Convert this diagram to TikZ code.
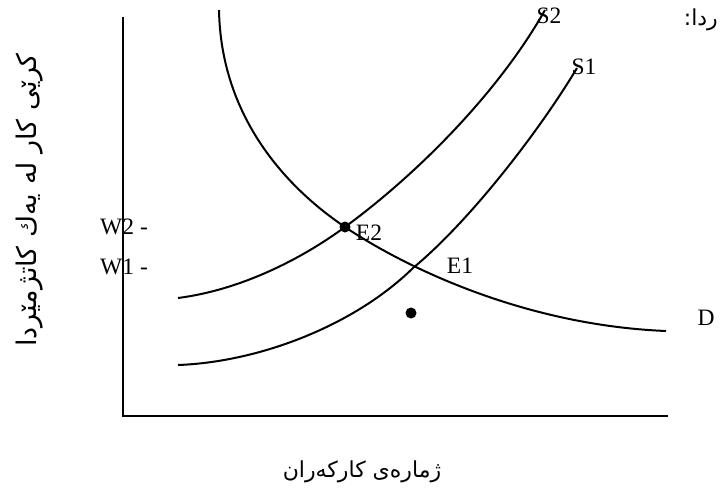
\documentclass[tikz,border=0pt]{standalone}
\usepackage{fontspec}
\usepackage{tikz}
\setmainfont{Liberation Serif}
\newfontfamily\kurdfont[Script=Arabic]{DejaVu Sans}
\TeXXeTstate=1
\usetikzlibrary{calc}

\begin{document}
\begin{tikzpicture}[x=1pt, y=-1pt,
    curve/.style={line width=2pt},
    axisline/.style={line width=2.2pt},
    lbl/.style={font=\fontsize{23.5}{27}\selectfont, inner sep=0pt},
    krd/.style={font=\kurdfont\fontsize{22}{26}\selectfont, inner sep=0pt},
    dot/.style={circle, fill=black, inner sep=0pt, minimum size=11pt}]
  \useasboundingbox (0,0) rectangle (721,496);

  % axes
  \coordinate (ytop) at (123,17);
  \coordinate (origin) at (123,416);
  \coordinate (xend) at (668,416);
  \draw[axisline] (ytop) -- (origin) -- (xend);

  % demand and supply curves
  \coordinate (e2pt) at (345,227);
  \coordinate (e1pt) at (413,268);
  \draw[curve] (219,10) .. controls (221,120) and (290,190) .. (e2pt)
    .. controls (400,264) and (520,325) .. (666,331);
  \draw[curve] (178,298) .. controls (240,290) and (300,260) .. (e2pt)
    .. controls (420,172) and (500,90) .. (545,10);
  \draw[curve] (178,365) .. controls (260,362) and (355,325) .. (e1pt)
    .. controls (470,221) and (540,130) .. (577,68);

  % points
  \node[dot] (e2dot) at (e2pt) {};
  \node[dot] (lowdot) at (411,313) {};

  % labels
  \node[lbl] (s2) at (549,16) {S2};
  \node[lbl] (s1) at (584,67) {S1};
  \node[lbl] (e2) at (369,233) {E2};
  \node[lbl] (e1) at (460,266) {E1};
  \node[lbl] (d) at (706,318) {D};
  \node[lbl, anchor=west] (w2) at (100,227) {W2 -};
  \node[lbl, anchor=west] (w1) at (100,267) {W1 -};

  \node[krd, anchor=east] (note) at (718,20) {\beginR ردا:\endR};
  \node[krd, rotate=90, font=\kurdfont\fontsize{27}{32}\selectfont] (ylabel) at (30,200)
    {\beginR کرێی کار لە یەك کاتژمێردا\endR};
  \node[krd] (xlabel) at (362,472) {\beginR ژمارەی کارکەران\endR};
\end{tikzpicture}
\end{document}
